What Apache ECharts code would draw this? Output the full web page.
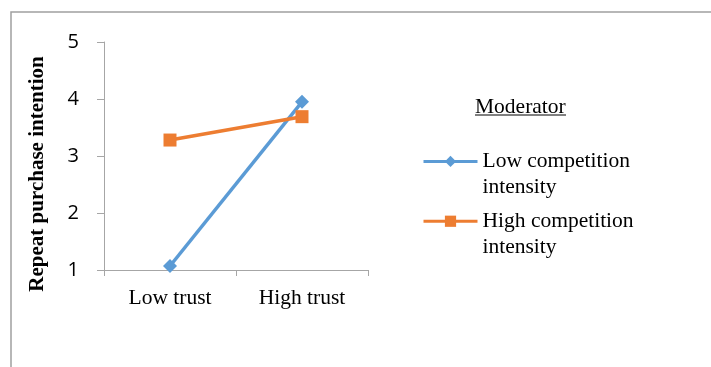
<!doctype html>
<html>
<head>
    <title>Repeat purchase intention</title>
    <script src="https://cdn.jsdelivr.net/npm/echarts@6/dist/echarts.min.js"></script>
</head>
<style>
    html, body { margin: 0; padding: 0; background: #fff; }
    #chart { width: 711px; height: 367px; }
</style>
<body>
<div id="chart"></div>
<script>
  var categories = ['Low trust', 'High trust'];
  var lowCompetition = [1.07, 3.95];
  var highCompetition = [3.28, 3.69];
  var seriesNames = ['Low competition\nintensity', 'High competition\nintensity'];

  var myChart = echarts.init(document.getElementById('chart'));
  var serif = '"Liberation Serif", "Times New Roman", serif';
  var axisGray = '#a6a6a6';

  var option = {
    animation: false,
    grid: { left: 104, top: 42, width: 264, height: 228 },
    title: {
      text: 'Moderator',
      left: 475,
      top: 91,
      textStyle: { fontFamily: serif, fontSize: 21.5, fontWeight: 'normal', color: '#000' },
      padding: 0
    },
    graphic: [
      {
        type: 'rect',
        shape: { x: 11, y: 12, width: 720, height: 380 },
        style: { fill: 'none', stroke: '#a0a0a0', lineWidth: 1.5 },
        silent: true
      },
      {
        type: 'line',
        shape: { x1: 475, y1: 115, x2: 566, y2: 115 },
        style: { stroke: '#000', lineWidth: 1 },
        silent: true
      }
    ],
    legend: {
      orient: 'vertical',
      left: 422,
      top: 119,
      itemWidth: 54,
      itemHeight: 14,
      itemGap: -25,
      padding: 0,
      lineStyle: { width: 3 },
      // blank first line keeps the marker level with the first text line
      formatter: function (name) { return '\n' + name; },
      textStyle: {
        fontFamily: serif, fontSize: 21.5, color: '#000', lineHeight: 26
      },
      data: seriesNames
    },
    xAxis: {
      type: 'category',
      data: categories,
      axisLine: { lineStyle: { color: axisGray, width: 1 } },
      axisTick: { show: true, length: 6, lineStyle: { color: axisGray } },
      axisLabel: { fontFamily: serif, fontSize: 21.5, color: '#000', margin: 12 }
    },
    yAxis: {
      type: 'value',
      min: 1,
      max: 5,
      interval: 1,
      name: 'Repeat purchase intention',
      nameLocation: 'middle',
      nameGap: 50,
      nameMoveOverlap: false,
      nameTextStyle: {
        fontFamily: serif, fontSize: 21, fontWeight: 'bold', color: '#000',
        padding: [0, 36, 0, 0]
      },
      splitLine: { show: false },
      axisLine: { show: true, lineStyle: { color: axisGray, width: 1 } },
      axisTick: { show: true, length: 7, lineStyle: { color: axisGray } },
      axisLabel: { fontFamily: '"Open Sans", "Noto Sans", sans-serif', fontSize: 20, color: '#000', margin: 25 }
    },
    series: [
      {
        name: seriesNames[0],
        type: 'line',
        data: lowCompetition,
        symbol: 'diamond',
        symbolSize: 14,
        lineStyle: { color: '#5B9BD5', width: 3.5 },
        itemStyle: { color: '#5B9BD5' }
      },
      {
        name: seriesNames[1],
        type: 'line',
        data: highCompetition,
        symbol: 'rect',
        symbolSize: 13,
        lineStyle: { color: '#ED7D31', width: 3.5 },
        itemStyle: { color: '#ED7D31' }
      }
    ]
  };

  myChart.setOption(option);
</script>
</body>
</html>
